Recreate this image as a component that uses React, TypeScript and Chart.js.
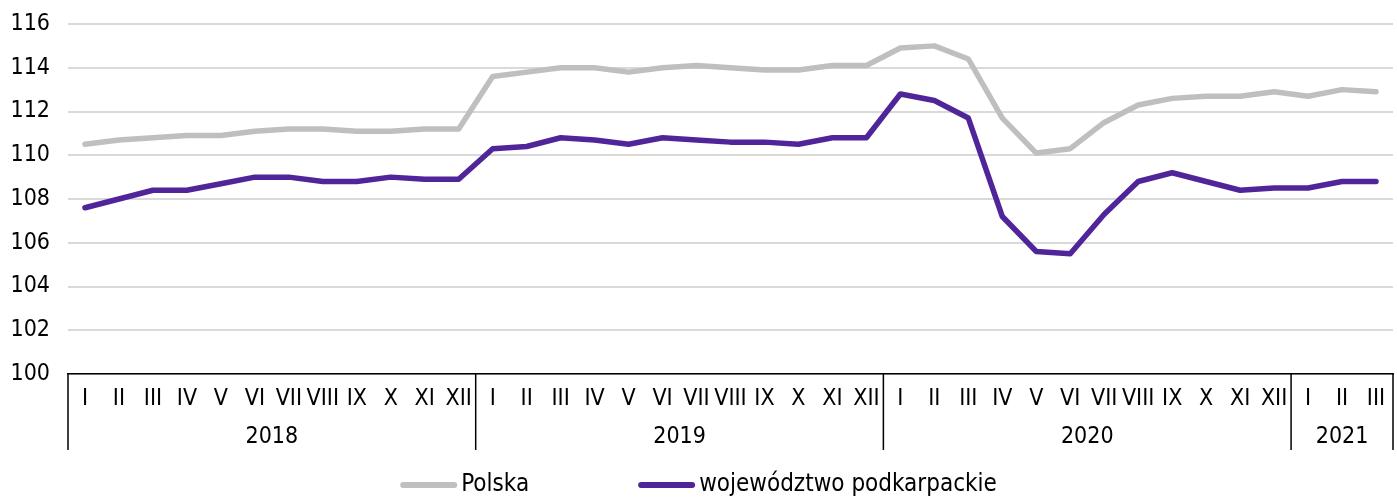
import React, { useEffect, useRef } from "react";
import { Chart, registerables } from "chart.js";

Chart.register(...registerables);

const months = ["I", "II", "III", "IV", "V", "VI", "VII", "VIII", "IX", "X", "XI", "XII"];
const categories = [...months, ...months, ...months, "I", "II", "III"];
const yearLabels = ["2018", "2019", "2020", "2021"];
const yearCounts = [12, 12, 12, 3];

const polska = [
  110.5, 110.7, 110.8, 110.9, 110.9, 111.1, 111.2, 111.2, 111.1, 111.1, 111.2, 111.2,
  113.6, 113.8, 114.0, 114.0, 113.8, 114.0, 114.1, 114.0, 113.9, 113.9, 114.1, 114.1,
  114.9, 115.0, 114.4, 111.7, 110.1, 110.3, 111.5, 112.3, 112.6, 112.7, 112.7, 112.9,
  112.7, 113.0, 112.9,
];
const podkarpackie = [
  107.6, 108.0, 108.4, 108.4, 108.7, 109.0, 109.0, 108.8, 108.8, 109.0, 108.9, 108.9,
  110.3, 110.4, 110.8, 110.7, 110.5, 110.8, 110.7, 110.6, 110.6, 110.5, 110.8, 110.8,
  112.8, 112.5, 111.7, 107.2, 105.6, 105.5, 107.3, 108.8, 109.2, 108.8, 108.4, 108.5,
  108.5, 108.8, 108.8,
];
const seriesNames = ["Polska", "województwo podkarpackie"];
const seriesColors = ["#bfbfbf", "#51259a"];
const yTicks = { min: 100, max: 116, step: 2 };

const FONT = '"DejaVu Sans Condensed", "DejaVu Sans", sans-serif';
const FONT_SIZE = 23;
const LEGEND_FONT_SIZE = 24;

const groupPlugin = {
  id: "groupAxis",
  afterDraw(chart: any) {
    const { ctx, chartArea, scales } = chart;
    const x = scales.x;
    const bottom = chartArea.bottom;
    const sepBottom = 450;
    ctx.save();
    ctx.strokeStyle = "#000";
    ctx.lineWidth = 1.5;
    const bounds: number[] = [chartArea.left];
    let idx = 0;
    yearCounts.forEach((c, i) => {
      idx += c;
      if (i < yearCounts.length - 1) {
        bounds.push((x.getPixelForValue(idx - 1) + x.getPixelForValue(idx)) / 2);
      }
    });
    bounds.push(chartArea.right);
    bounds.forEach((b) => {
      ctx.beginPath();
      ctx.moveTo(b, bottom);
      ctx.lineTo(b, sepBottom);
      ctx.stroke();
    });
    ctx.fillStyle = "#000";
    ctx.font = `${FONT_SIZE}px ${FONT}`;
    ctx.textAlign = "center";
    ctx.textBaseline = "middle";
    yearLabels.forEach((y, i) => {
      ctx.fillText(y, (bounds[i] + bounds[i + 1]) / 2, 437);
    });

    // legend
    ctx.font = `${LEGEND_FONT_SIZE}px ${FONT}`;
    const lineW = 57;
    const gapText = 4;
    const itemGap = 109;
    const widths = seriesNames.map((n) => ctx.measureText(n).width);
    const total = widths.reduce((a, w) => a + lineW + gapText + w, 0) + itemGap * (seriesNames.length - 1);
    let lx = chart.width / 2 - total / 2;
    const ly = 485;
    ctx.textAlign = "left";
    seriesNames.forEach((n, i) => {
      ctx.strokeStyle = seriesColors[i];
      ctx.lineWidth = 6;
      ctx.lineCap = "round";
      ctx.beginPath();
      ctx.moveTo(lx + 3, ly);
      ctx.lineTo(lx + lineW - 3, ly);
      ctx.stroke();
      ctx.fillStyle = "#000";
      ctx.fillText(n, lx + lineW + gapText, ly);
      lx += lineW + gapText + widths[i] + itemGap;
    });
    ctx.restore();
  },
};

export default function App() {
  const ref = useRef<HTMLCanvasElement | null>(null);
  useEffect(() => {
    document.body.style.margin = "0";
    if (!ref.current) return;
    Chart.defaults.font.family = FONT;
    Chart.defaults.font.size = FONT_SIZE;
    Chart.defaults.color = "#000";
    const chart = new Chart(ref.current, {
      type: "line",
      data: {
        labels: categories,
        datasets: [
          {
            label: seriesNames[0],
            data: polska,
            borderColor: seriesColors[0],
            backgroundColor: seriesColors[0],
            borderWidth: 5.5,
            pointRadius: 0,
            pointHoverRadius: 0,
            tension: 0,
            borderCapStyle: "round",
            borderJoinStyle: "round",
          },
          {
            label: seriesNames[1],
            data: podkarpackie,
            borderColor: seriesColors[1],
            backgroundColor: seriesColors[1],
            borderWidth: 5.5,
            pointRadius: 0,
            pointHoverRadius: 0,
            tension: 0,
            borderCapStyle: "round",
            borderJoinStyle: "round",
          },
        ],
      },
      options: {
        animation: false,
        responsive: false,
        devicePixelRatio: 1,
        layout: { autoPadding: false, padding: { top: 0, right: 4, left: 0, bottom: 0 } },
        plugins: { legend: { display: false }, tooltip: { enabled: false } },
        scales: {
          x: {
            type: "category",
            offset: true,
            grid: { display: false, drawTicks: false },
            border: { display: true, color: "#000", width: 1.5 },
            ticks: { autoSkip: false, maxRotation: 0, minRotation: 0, padding: 11, color: "#000" },
            afterFit: (s: any) => {
              s.height = 123;
            },
          },
          y: {
            min: yTicks.min,
            max: yTicks.max,
            ticks: { stepSize: yTicks.step, padding: 18, color: "#000" },
            grid: { color: "#d9d9d9", lineWidth: 2, drawTicks: false },
            border: { display: false },
            afterFit: (s: any) => {
              s.width = 68;
              s.paddingTop = 24;
            },
          },
        },
      },
      plugins: [groupPlugin],
    });
    return () => chart.destroy();
  }, []);
  return (
    <div style={{ width: 1397, height: 497 }}>
      <canvas ref={ref} width={1397} height={497} />
    </div>
  );
}
